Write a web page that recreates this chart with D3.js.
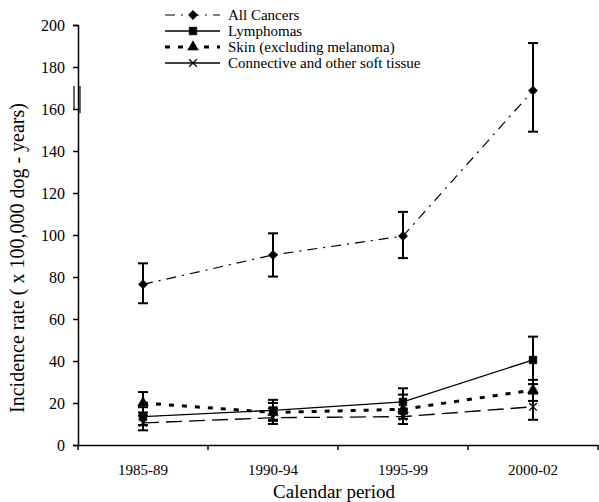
<!DOCTYPE html>
<html>
<head>
<meta charset="utf-8">
<script src="https://cdn.jsdelivr.net/npm/d3@7"></script>
<style>
  body { margin: 0; background: white; }
  text { font-family: "Liberation Serif", "Times New Roman", serif; fill: #000; }
</style>
</head>
<body>
<script>
// データ
const periods = ["1985-89", "1990-94", "1995-99", "2000-02"];
const yTicks = [0, 20, 40, 60, 80, 100, 120, 140, 160, 180, 200];

const allCancers = [76.5, 90.5, 99.5, 168.8];
const allCancersLow = [67.5, 80.2, 89, 149.2];
const allCancersHigh = [86.5, 100.8, 111, 191.4];

const lymphomas = [13.5, 16.5, 20.5, 40.5];
const lymphomasLow = [9.5, 12, 15, 29];
const lymphomasHigh = [18, 21.5, 27, 51.6];

const skin = [20, 15.5, 17, 26.2];
const skinLow = [15.5, 11.5, 12.5, 21];
const skinHigh = [25.2, 20, 24, 31];

const connective = [10.5, 13, 13.5, 18.2];
const connectiveLow = [7, 10, 10, 12];
const connectiveHigh = [14, 17.5, 17, 24.5];

const seriesNames = ["All Cancers", "Lymphomas", "Skin (excluding melanoma)", "Connective and other soft tissue"];

const width = 599, height = 502;
const margin = {left: 78, right: 1, top: 25, bottom: 57};

const svg = d3.select("body").append("svg")
    .attr("width", width)
    .attr("height", height);

const x = d3.scaleBand()
    .domain(periods)
    .range([margin.left, width - margin.right])
    .padding(0);

const y = d3.scaleLinear()
    .domain([0, 200])
    .range([height - margin.bottom, margin.top]);

// 軸
const xAxis = svg.append("g")
    .attr("transform", `translate(0,${y(0)})`)
    .call(d3.axisBottom(x).tickSize(0).tickPadding(19));
xAxis.select(".domain").attr("stroke", "#000").attr("stroke-width", 1.5);
xAxis.selectAll("text").attr("font-size", 15).attr("font-family", "Liberation Serif");

// x軸の目盛り(カテゴリの境界)
const bounds = periods.map(p => x(p)).concat([x(periods[periods.length - 1]) + x.bandwidth()]);
svg.selectAll(".xtick")
    .data(bounds)
    .enter()
    .append("line")
    .attr("x1", d => d).attr("x2", d => d)
    .attr("y1", y(0)).attr("y2", y(0) + 5)
    .attr("stroke", "#000").attr("stroke-width", 1.5);

const yAxis = svg.append("g")
    .attr("transform", `translate(${margin.left},0)`)
    .call(d3.axisLeft(y).tickValues(yTicks).tickSize(5).tickPadding(8));
yAxis.select(".domain").attr("stroke", "#000").attr("stroke-width", 1.5);
yAxis.selectAll(".tick line").attr("stroke", "#000").attr("stroke-width", 1.5);
yAxis.selectAll("text").attr("font-size", 16).attr("font-family", "Liberation Serif");

// 軸の省略記号
svg.append("line")
    .attr("x1", margin.left - 4).attr("x2", margin.left - 4)
    .attr("y1", y(171)).attr("y2", y(159.5))
    .attr("stroke", "#000").attr("stroke-width", 1.2);
svg.append("line")
    .attr("x1", margin.left + 2).attr("x2", margin.left + 2)
    .attr("y1", y(171)).attr("y2", y(158))
    .attr("stroke", "#000").attr("stroke-width", 1.2);

// 軸ラベル
svg.append("text")
    .attr("x", 334)
    .attr("y", 498)
    .attr("text-anchor", "middle")
    .attr("font-size", 19)
    .text("Calendar period");

svg.append("text")
    .attr("transform", `translate(24,258) rotate(-90)`)
    .attr("text-anchor", "middle")
    .attr("font-size", 20)
    .text("Incidence rate ( x 100,000 dog - years)");

// 系列
const series = [
    {values: allCancers, low: allCancersLow, high: allCancersHigh, dash: "10,6,2,6", width: 1.2, marker: "diamond"},
    {values: lymphomas, low: lymphomasLow, high: lymphomasHigh, dash: null, width: 1.3, marker: "square"},
    {values: skin, low: skinLow, high: skinHigh, dash: "5,8", width: 3, marker: "triangle"},
    {values: connective, low: connectiveLow, high: connectiveHigh, dash: "16,7", width: 1.3, marker: "cross"}
];

const cx = p => x(p) + x.bandwidth() / 2;

const line = d3.line()
    .x((d, i) => cx(periods[i]))
    .y(d => y(d));

const symbolOf = {
    diamond: d3.symbol().type(d3.symbolDiamond2).size(55),
    square: d3.symbol().type(d3.symbolSquare).size(60),
    triangle: d3.symbol().type(d3.symbolTriangle).size(50),
    cross: d3.symbol().type(d3.symbolX).size(40)
};

// 誤差棒
series.forEach(s => {
    const g = svg.append("g");
    periods.forEach((p, i) => {
        g.append("line")
            .attr("x1", cx(p)).attr("x2", cx(p))
            .attr("y1", y(s.low[i])).attr("y2", y(s.high[i]))
            .attr("stroke", "#000").attr("stroke-width", 2);
        [s.low[i], s.high[i]].forEach(v => {
            g.append("line")
                .attr("x1", cx(p) - 5).attr("x2", cx(p) + 5)
                .attr("y1", y(v)).attr("y2", y(v))
                .attr("stroke", "#000").attr("stroke-width", 2);
        });
    });
});

series.forEach(s => {
    svg.append("path")
        .datum(s.values)
        .attr("d", line)
        .attr("fill", "none")
        .attr("stroke", "#000")
        .attr("stroke-width", s.width)
        .attr("stroke-dasharray", s.dash);

    svg.selectAll(null)
        .data(s.values)
        .enter()
        .append("path")
        .attr("transform", (d, i) => `translate(${cx(periods[i])},${y(d)})`)
        .attr("d", symbolOf[s.marker])
        .attr("fill", s.marker === "cross" ? "none" : "#000")
        .attr("stroke", "#000")
        .attr("stroke-width", s.marker === "cross" ? 1.3 : 0.5);
});

// 凡例
const legendDash = ["10,6,2,6", null, "5,8", null];
const legend = svg.append("g");
seriesNames.forEach((name, i) => {
    const ly = 15 + i * 16;
    const s = series[i];
    legend.append("line")
        .attr("x1", 165).attr("x2", 220)
        .attr("y1", ly).attr("y2", ly)
        .attr("stroke", "#000")
        .attr("stroke-width", s.width)
        .attr("stroke-dasharray", legendDash[i]);
    legend.append("path")
        .attr("transform", `translate(193,${ly})`)
        .attr("d", symbolOf[s.marker])
        .attr("fill", s.marker === "cross" ? "none" : "#000")
        .attr("stroke", "#000")
        .attr("stroke-width", s.marker === "cross" ? 1.3 : 0.5);
    legend.append("text")
        .attr("x", 228)
        .attr("y", ly + 5)
        .attr("font-size", 15)
        .text(name);
});
</script>
</body>
</html>
